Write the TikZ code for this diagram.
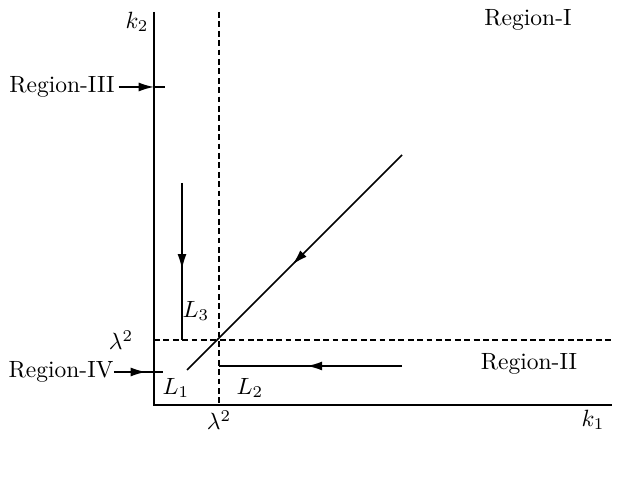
\documentclass[tikz,border=0pt]{standalone}
\usetikzlibrary{arrows.meta,decorations.markings}
\begin{document}
\begin{tikzpicture}[x=0.4255pt,y=-0.4255pt,
  axis/.style={line width=0.8pt},
  curve/.style={line width=0.65pt},
  dashline/.style={line width=0.6pt,dash pattern=on 2.5pt off 1.5pt},
  midarrow/.style={postaction={decorate,decoration={markings,
     mark=at position #1 with {\arrow{Latex[length=6.5pt,width=3.8pt]}}}}},
  lbl/.style={inner sep=0pt}]
\useasboundingbox (0,0) rectangle (623,494);
% coordinates
\coordinate (O) at (154,405);
\coordinate (ytop) at (154,12);
\coordinate (xend) at (612,405);
\coordinate (vdtop) at (219,12);
\coordinate (vdbot) at (219,405);
\coordinate (hdl) at (154,340);
\coordinate (hdr) at (612,340);
\coordinate (dA) at (402,155);
\coordinate (dB) at (187,370);
\coordinate (l3a) at (182,183);
\coordinate (l3b) at (182,340);
\coordinate (l2a) at (402,366);
\coordinate (l2b) at (219,366);
\coordinate (t3a) at (154,87);
\coordinate (t3b) at (165,87);
\coordinate (t4a) at (154,372);
\coordinate (t4b) at (163,372);
% axes
\draw[axis] (ytop) -- (O) -- (xend);
% dashed lines
\draw[dashline] (vdtop) -- (vdbot);
\draw[dashline] (hdl) -- (hdr);
% trajectories
\draw[curve,midarrow=0.51] (dA) -- (dB);
\draw[curve,midarrow=0.55] (l3a) -- (l3b);
\draw[curve,midarrow=0.52] (l2a) -- (l2b);
% labels
\node[lbl] (k2) at (137,22) {$k_2$};
\node[lbl] (k1) at (593,420) {$k_1$};
\node[lbl] (r1) at (528,20) {Region-I};
\node[lbl] (r2) at (529,364) {Region-II};
\node[lbl] (r3) at (62,87) {Region-III};
\node[lbl] (r4) at (61,372) {Region-IV};
\node[lbl] (lamy) at (121,340) {$\lambda^2$};
\node[lbl] (lamx) at (219,420) {$\lambda^2$};
\node[lbl] (L1) at (176,388) {$L_1$};
\node[lbl] (L2) at (250,388) {$L_2$};
\node[lbl] (L3) at (196,311) {$L_3$};
% region pointers
\draw[curve,-{Latex[length=6.5pt,width=3.8pt]}] ([xshift=1.5pt]r3.east) -- (t3a);
\draw[curve] (t3a) -- (t3b);
\draw[curve,midarrow=0.8] (r4.east) -- (t4a);
\draw[curve] (t4a) -- (t4b);
\end{tikzpicture}
\end{document}
